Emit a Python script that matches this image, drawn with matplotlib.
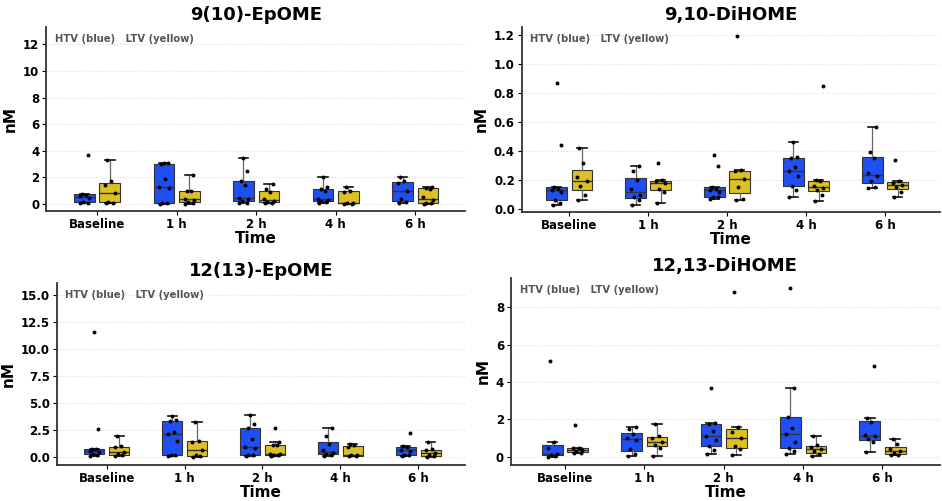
import numpy as np
import matplotlib
matplotlib.use('Agg')
import matplotlib.pyplot as plt

times = ['Baseline', '1 h', '2 h', '4 h', '6 h']

# 9(10)-EpOME, nM
epome910_htv = [
    [0.05, 0.1, 0.15, 0.45, 0.6, 0.7, 0.78, 3.65],
    [0.0, 0.05, 0.1, 1.2, 1.3, 1.85, 3.0, 3.05, 3.1],
    [0.05, 0.1, 0.2, 0.35, 0.45, 1.45, 1.75, 2.45, 3.45],
    [0.05, 0.15, 0.25, 0.3, 0.35, 1.0, 1.1, 1.3, 2.0],
    [0.05, 0.15, 0.35, 1.0, 1.6, 1.75, 2.0],
]
epome910_ltv = [
    [0.08, 0.1, 0.15, 0.85, 1.45, 1.7, 3.3],
    [0.0, 0.05, 0.15, 0.3, 0.4, 0.95, 1.0, 2.15],
    [0.05, 0.1, 0.15, 0.25, 0.35, 0.9, 1.1, 1.5],
    [0.0, 0.02, 0.05, 0.1, 0.9, 1.0, 1.3],
    [0.0, 0.05, 0.1, 0.3, 0.5, 1.15, 1.2, 1.3],
]

# 9,10-DiHOME, nM
dihome910_htv = [
    [0.03, 0.04, 0.06, 0.12, 0.13, 0.14, 0.15, 0.44, 0.87],
    [0.03, 0.06, 0.08, 0.1, 0.14, 0.2, 0.26, 0.3],
    [0.07, 0.08, 0.08, 0.12, 0.13, 0.14, 0.15, 0.3, 0.37],
    [0.08, 0.13, 0.16, 0.23, 0.26, 0.29, 0.35, 0.36, 0.465],
    [0.145, 0.15, 0.19, 0.225, 0.25, 0.35, 0.39, 0.565],
]
dihome910_ltv = [
    [0.06, 0.1, 0.16, 0.19, 0.22, 0.32, 0.42],
    [0.04, 0.12, 0.14, 0.18, 0.19, 0.2, 0.32],
    [0.065, 0.07, 0.15, 0.21, 0.26, 0.27, 1.19],
    [0.055, 0.1, 0.13, 0.145, 0.16, 0.19, 0.2, 0.85],
    [0.085, 0.12, 0.15, 0.165, 0.18, 0.19, 0.335],
]

# 12(13)-EpOME, nM
epome1213_htv = [
    [0.1, 0.15, 0.25, 0.45, 0.55, 0.7, 0.75, 2.6, 11.6],
    [0.1, 0.15, 0.2, 1.45, 2.15, 2.3, 3.3, 3.4, 3.8],
    [0.1, 0.15, 0.2, 0.8, 0.9, 1.65, 2.7, 3.05, 3.85],
    [0.1, 0.2, 0.25, 0.4, 0.6, 1.2, 1.9, 2.7],
    [0.1, 0.15, 0.2, 0.55, 0.65, 0.95, 1.0, 2.2],
]
epome1213_ltv = [
    [0.1, 0.15, 0.3, 0.5, 0.9, 1.0, 1.9],
    [0.0, 0.05, 0.15, 0.6, 1.4, 1.5, 3.2],
    [0.1, 0.15, 0.2, 0.25, 0.3, 1.1, 1.15, 1.35, 2.65],
    [0.05, 0.1, 0.15, 0.2, 0.9, 1.15, 1.2],
    [0.0, 0.05, 0.2, 0.35, 0.6, 0.75, 1.35],
]

# 12,13-DiHOME, nM
dihome1213_htv = [
    [0.0, 0.05, 0.1, 0.15, 0.45, 0.8, 5.1],
    [0.05, 0.15, 0.4, 0.9, 1.0, 1.2, 1.5, 1.6],
    [0.15, 0.35, 0.6, 0.9, 1.1, 1.4, 1.75, 1.8, 3.7],
    [0.15, 0.3, 0.5, 0.8, 1.2, 1.55, 2.15, 3.7, 9.0],
    [0.25, 0.8, 0.95, 1.1, 1.15, 1.85, 2.05, 4.85],
]
dihome1213_ltv = [
    [0.2, 0.22, 0.3, 0.35, 0.45, 0.5, 1.7],
    [0.05, 0.5, 0.65, 0.8, 1.0, 1.1, 1.75],
    [0.1, 0.4, 0.6, 1.0, 1.35, 1.6, 8.8],
    [0.05, 0.15, 0.3, 0.4, 0.55, 0.65, 1.1],
    [0.1, 0.12, 0.2, 0.3, 0.4, 0.7, 0.95],
]

BLUE = '#1f4ef2'
YELLOW = '#dcc024'
# fixed horizontal jitter for the dots
JIT = [-0.05, 0.04, -0.02, 0.06, -0.06, 0.02, -0.03, 0.05, 0.0, -0.04]

panels = [
    ('9(10)-EpOME', epome910_htv, epome910_ltv, [0.049, 0.579, 0.445, 0.367],
     (-0.53, 13.3), np.arange(0, 13, 2), '{:.0f}', (-0.64, 4.63)),
    ('9,10-DiHOME', dihome910_htv, dihome910_ltv, [0.554, 0.577, 0.444, 0.369],
     (-0.02, 1.255), np.arange(0, 1.21, 0.2), '{:.1f}', (-0.6, 4.7)),
    ('12(13)-EpOME', epome1213_htv, epome1213_ltv, [0.0605, 0.072, 0.433, 0.363],
     (-0.74, 16.1), np.arange(0, 15.1, 2.5), '{:.1f}', (-0.64, 4.6)),
    ('12,13-DiHOME', dihome1213_htv, dihome1213_ltv, [0.5425, 0.072, 0.455, 0.373],
     (-0.43, 9.55), np.arange(0, 8.1, 2), '{:.0f}', (-0.68, 4.72)),
]

fig = plt.figure(figsize=(9.42, 5.01), dpi=100)

for title, htv, ltv, rect, ylim, yticks, fmt, xlim in panels:
    ax = fig.add_axes(rect)
    pos = np.arange(len(times))
    for data, off, col in [(htv, -0.16, BLUE), (ltv, 0.16, YELLOW)]:
        ax.boxplot(data, positions=pos + off, widths=0.26, patch_artist=True,
                   showfliers=False, whis=1.5, capwidths=0.12,
                   boxprops=dict(facecolor=col, edgecolor='#333333', linewidth=0.8),
                   medianprops=dict(color='#333333', linewidth=1.0),
                   whiskerprops=dict(color='#666666', linewidth=0.9),
                   capprops=dict(color='#111111', linewidth=1.2),
                   zorder=2)
        for i, vals in enumerate(data):
            xs = [pos[i] + off + JIT[k % len(JIT)] for k in range(len(vals))]
            ax.scatter(xs, vals, s=8, color='black', zorder=3, linewidths=0)
    ax.set_xlim(*xlim)
    ax.set_ylim(*ylim)
    ax.set_xticks(pos)
    ax.set_xticklabels(times, fontsize=8.5, fontweight='bold')
    ax.set_yticks(yticks)
    ax.set_yticklabels([fmt.format(v) for v in yticks], fontsize=8.5, fontweight='bold')
    ax.grid(axis='y', linestyle=':', color='#dddddd', linewidth=0.8)
    ax.set_axisbelow(True)
    for s in ['top', 'right']:
        ax.spines[s].set_visible(False)
    for s in ['left', 'bottom']:
        ax.spines[s].set_linewidth(1.3)
        ax.spines[s].set_color('#333333')
    ax.tick_params(length=3, width=0.8, pad=2)
    ax.set_title(title, fontsize=13, fontweight='bold', pad=5)
    ax.set_xlabel('Time', fontsize=11, fontweight='bold', labelpad=0)
    ax.set_ylabel('nM', fontsize=11, fontweight='bold', labelpad=4)
    ax.text(0.02, 0.935, 'HTV (blue)   LTV (yellow)', transform=ax.transAxes,
            fontsize=7.2, fontweight='bold', color='#555555', va='center')

fig.savefig('out.png', dpi=100)
